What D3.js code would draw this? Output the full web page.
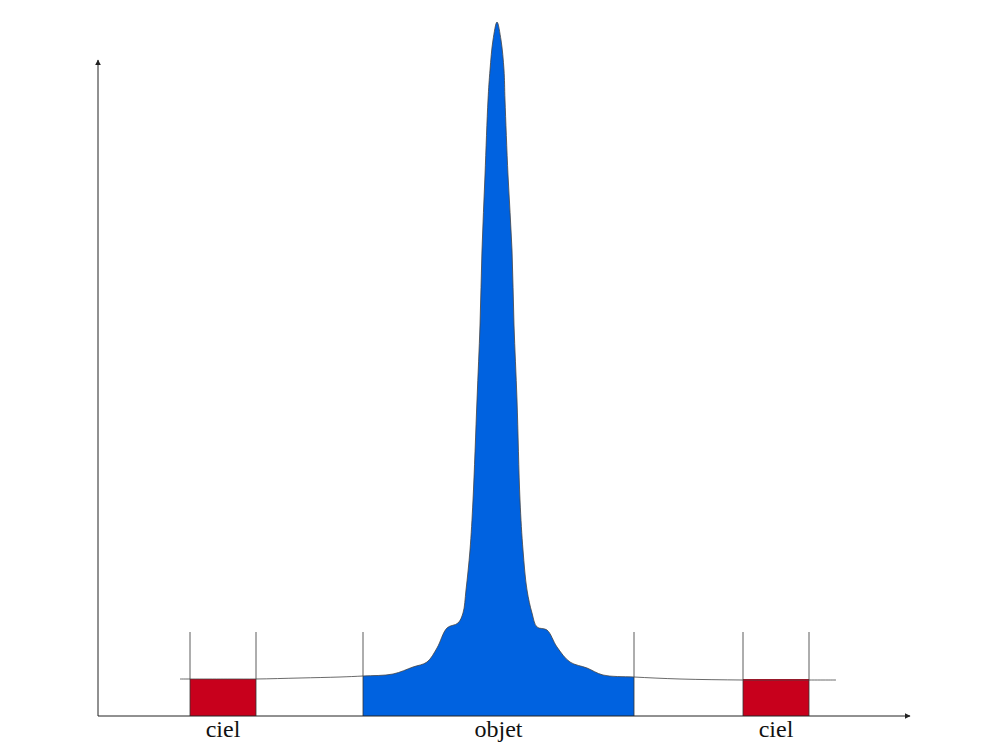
<!DOCTYPE html>
<html>
<head>
<meta charset="utf-8">
<script src="https://cdn.jsdelivr.net/npm/d3@7"></script>
<style>
  html, body { margin: 0; padding: 0; background: #fff; }
  svg { display: block; }
</style>
</head>
<body>
<svg id="chart" width="997" height="747"></svg>
<script>
// Profile position (arbitrary units along the slit) and intensity
const profileX = [82, 132, 158, 202, 242, 265, 295, 315, 329, 339, 349, 360, 365, 368, 372, 375, 379, 382, 384, 387, 390, 392, 395, 399, 403, 406, 407, 410, 414, 416, 419, 422, 425, 429, 434, 439, 449, 459, 472, 489, 505, 536, 582, 645, 702, 738];
const profileY = [37, 37, 37, 38, 39, 40, 42, 49, 54, 68, 88, 93, 103, 126, 166, 216, 316, 391, 466, 541, 616, 646, 676, 694, 676, 646, 616, 541, 466, 391, 316, 216, 166, 126, 103, 89, 86, 69, 54, 48, 41, 39, 37, 36, 36, 36];

// Regions
const skyRegions = [[92, 158], [645, 711]];
const objectRegion = [265, 536];
const regionLabels = ["ciel", "objet", "ciel"];
const skyLevel = 37;
const markerHeight = 84;

const xMax = 812, yMax = 656;

const svg = d3.select("#chart");
const x = d3.scaleLinear().domain([0, xMax]).range([98, 910]);
const y = d3.scaleLinear().domain([0, yMax]).range([716, 60]);

const pts = profileX.map((d, i) => [d, profileY[i]]);
const curve = d3.curveCatmullRom.alpha(0.5);

// arrow marker
const defs = svg.append("defs");
defs.append("marker")
  .attr("id", "arrow")
  .attr("viewBox", "0 0 10 10")
  .attr("refX", 9).attr("refY", 5)
  .attr("markerWidth", 6).attr("markerHeight", 6)
  .attr("markerUnits", "userSpaceOnUse")
  .attr("orient", "auto")
  .append("path").attr("d", "M0,0 L10,5 L0,10 Z").attr("fill", "#222");

defs.append("clipPath").attr("id", "objClip")
  .append("rect")
  .attr("x", x(objectRegion[0])).attr("y", 0)
  .attr("width", x(objectRegion[1]) - x(objectRegion[0]))
  .attr("height", 747);

// sky boxes
svg.selectAll("rect.sky").data(skyRegions).enter().append("rect")
  .attr("class", "sky")
  .attr("x", d => x(d[0]))
  .attr("y", y(skyLevel))
  .attr("width", d => x(d[1]) - x(d[0]))
  .attr("height", y(0) - y(skyLevel))
  .attr("fill", "#c8001c");

// object area
const area = d3.area().x(d => x(d[0])).y0(y(0)).y1(d => y(d[1])).curve(curve);
svg.append("path")
  .datum(pts)
  .attr("d", area)
  .attr("clip-path", "url(#objClip)")
  .attr("fill", "#0062e0");

// vertical region markers
const edges = [skyRegions[0][0], skyRegions[0][1], objectRegion[0], objectRegion[1], skyRegions[1][0], skyRegions[1][1]];
svg.selectAll("line.edge").data(edges).enter().append("line")
  .attr("class", "edge")
  .attr("x1", d => x(d)).attr("x2", d => x(d))
  .attr("y1", y(0)).attr("y2", y(markerHeight))
  .attr("stroke", "#333").attr("stroke-width", 0.8);

// profile line
const line = d3.line().x(d => x(d[0])).y(d => y(d[1])).curve(curve);
svg.append("path")
  .datum(pts)
  .attr("d", line)
  .attr("fill", "none")
  .attr("stroke", "#444")
  .attr("stroke-width", 0.8);

// axes
svg.append("line")
  .attr("x1", x(0)).attr("y1", y(0)).attr("x2", x(xMax)).attr("y2", y(0))
  .attr("stroke", "#222").attr("stroke-width", 1)
  .attr("marker-end", "url(#arrow)");
svg.append("line")
  .attr("x1", x(0)).attr("y1", y(0)).attr("x2", x(0)).attr("y2", y(yMax))
  .attr("stroke", "#222").attr("stroke-width", 1)
  .attr("marker-end", "url(#arrow)");

// labels
const labelPos = [
  (skyRegions[0][0] + skyRegions[0][1]) / 2,
  (objectRegion[0] + objectRegion[1]) / 2,
  (skyRegions[1][0] + skyRegions[1][1]) / 2
];
svg.selectAll("text.lbl").data(labelPos).enter().append("text")
  .attr("class", "lbl")
  .attr("x", d => x(d))
  .attr("y", 737)
  .attr("text-anchor", "middle")
  .attr("font-family", "'Liberation Serif', 'DejaVu Serif', serif")
  .attr("font-size", 24)
  .attr("fill", "#111")
  .text((d, i) => regionLabels[i]);
</script>
</body>
</html>
